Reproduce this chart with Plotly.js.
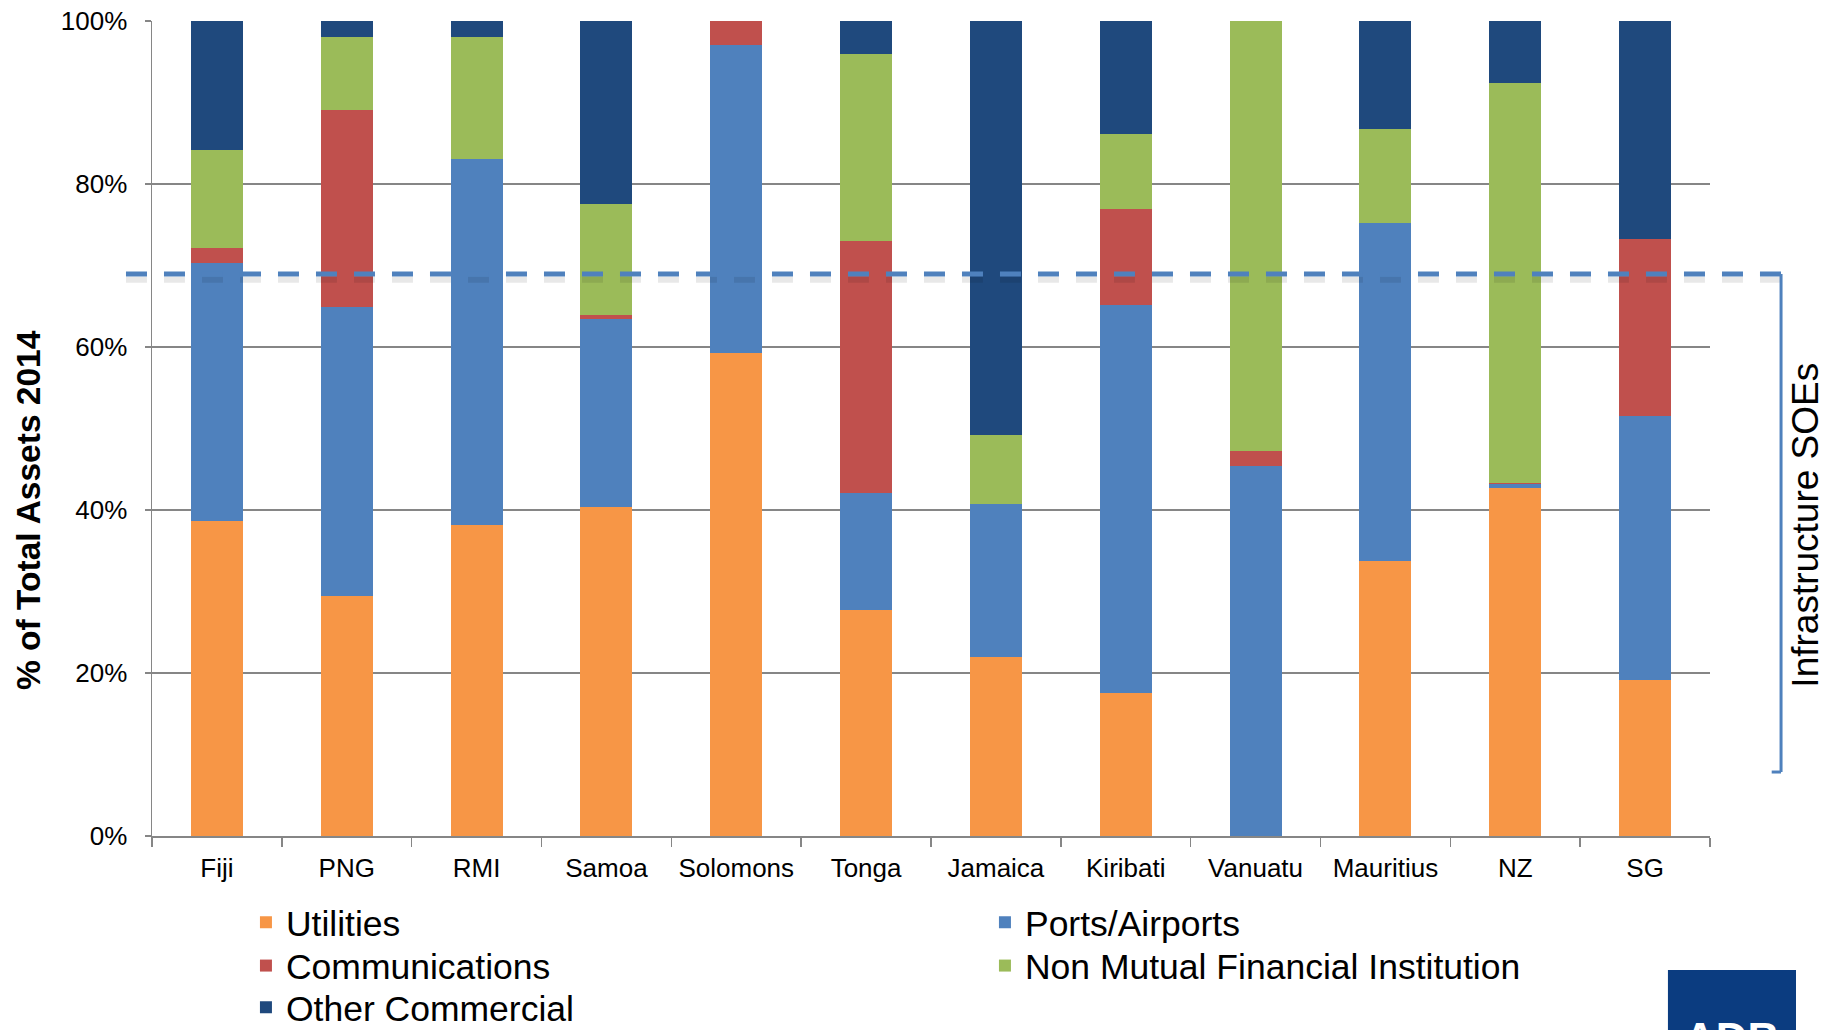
<!DOCTYPE html>
<html><head><meta charset="utf-8">
<script src="https://cdn.plot.ly/plotly-3.0.1.min.js"></script>
<style>html,body{margin:0;padding:0;background:#fff}#chart{width:1829px;height:1030px}</style>
</head><body><div id="chart"></div>
<script>
const countries = ['Fiji','PNG','RMI','Samoa','Solomons','Tonga','Jamaica','Kiribati','Vanuatu','Mauritius','NZ','SG'];
const utilities          = [38.7, 29.4, 38.1, 40.4, 59.3, 27.7, 22.0, 17.6, 0,    33.8, 42.7,  19.2];
const portsAirports      = [31.6, 35.55,45.0, 23.0, 37.7, 14.4, 18.7, 47.6, 45.4, 41.4, 0.5,   32.3];
const communications     = [1.9,  24.15,0,    0.5,  3.0,  30.9, 0,    11.7, 1.9,  0,    0.1,   21.7];
const nonMutualFinancial = [12.0, 8.9,  14.9, 13.6, 0,    22.9, 8.5,  9.2,  52.7, 11.6, 49.05, 0];
const otherCommercial    = [15.8, 2.0,  2.0,  22.5, 0,    4.1,  50.8, 13.9, 0,    13.2, 7.65,  26.8];
const seriesNames = ['Utilities','Ports/Airports','Communications','Non Mutual Financial Institution','Other Commercial'];
const seriesColors = ['#f79646','#4f81bd','#c0504d','#9bbb59','#1f497d'];
const seriesLegends = ['legend','legend','legend2','legend2','legend3'];
const yTickVals = [0,20,40,60,80,100];
const yTickText = ['0%','20%','40%','60%','80%','100%'];
const infraThreshold = 68.96;
const bracketBottom = 7.85;

const values = [utilities, portsAirports, communications, nonMutualFinancial, otherCommercial];
const traces = values.map((v,i)=>({
  type:'bar', x:countries, y:v, name:seriesNames[i],
  marker:{color:seriesColors[i], line:{width:0}},
  legend:seriesLegends[i], hoverinfo:'x+y+name'
}));

const FONT = 'Liberation Sans, Arial, Helvetica, sans-serif';
const legendBase = {orientation:'h', xanchor:'left', yanchor:'middle', x:0.0603,
  font:{size:35.5, family:FONT, color:'#000'}, entrywidth:694, entrywidthmode:'pixels',
  bgcolor:'rgba(0,0,0,0)', borderwidth:0, traceorder:'normal'};

const xL = -0.0167, xR = 1.0456;
const layout = {
  width:1829, height:1030,
  margin:{l:152, r:119, t:21, b:194, autoexpand:false},
  barmode:'stack', bargap:0.6,
  paper_bgcolor:'#ffffff', plot_bgcolor:'#ffffff',
  font:{family:FONT, color:'#000', size:26},
  showlegend:true,
  legend:Object.assign({}, legendBase, {y:-0.1065}),
  legend2:Object.assign({}, legendBase, {y:-0.1595}),
  legend3:Object.assign({}, legendBase, {y:-0.2105}),
  xaxis:{type:'category', tickson:'boundaries', ticks:'outside', ticklen:9, tickcolor:'#868686', tickwidth:1.5,
    showline:true, linecolor:'#868686', linewidth:1.5, showgrid:false, tickfont:{size:26, family:FONT, color:'#000'},
    ticklabelstandoff:8, fixedrange:true},
  yaxis:{range:[0,100], tickmode:'array', tickvals:yTickVals, ticktext:yTickText, ticks:'outside', ticklen:6, tickcolor:'#868686', tickwidth:1.5,
    showline:true, linecolor:'#868686', linewidth:1.5, showgrid:true, gridcolor:'#868686', gridwidth:1.5,
    zeroline:false, tickfont:{size:26, family:FONT, color:'#000'}, ticklabelstandoff:12, fixedrange:true},
  shapes:[
    {type:'line', xref:'paper', yref:'y', x0:xL, x1:xR, y0:infraThreshold-0.7, y1:infraThreshold-0.7,
      line:{color:'rgba(0,0,0,0.09)', width:6, dash:'21px,17px'}, layer:'above'},
    {type:'line', xref:'paper', yref:'y', x0:xL, x1:xR, y0:infraThreshold, y1:infraThreshold,
      line:{color:'#4f81bd', width:5, dash:'21px,17px'}, layer:'above'},
    {type:'line', xref:'paper', yref:'y', x0:xR, x1:xR, y0:infraThreshold, y1:bracketBottom,
      line:{color:'#4f81bd', width:3}, layer:'above'},
    {type:'line', xref:'paper', yref:'y', x0:xR-0.006, x1:xR, y0:bracketBottom, y1:bracketBottom,
      line:{color:'#4f81bd', width:3}, layer:'above'},
    {type:'rect', xref:'paper', yref:'paper', x0:0.973, x1:1.0552, y0:-0.1644, y1:-0.32,
      fillcolor:'#0b3c80', line:{width:0}}
  ],
  annotations:[
    {text:'<b>% of Total Assets 2014</b>', xref:'paper', yref:'y', x:-0.0796, y:40, textangle:-90,
      showarrow:false, font:{size:33.5, family:FONT, color:'#000'}, xanchor:'center', yanchor:'middle'},
    {text:'Infrastructure SOEs', xref:'paper', yref:'y', x:1.0616, y:38.2, textangle:-90,
      showarrow:false, font:{size:37, family:FONT, color:'#000'}, xanchor:'center', yanchor:'middle'},
    {text:'<b>ADB</b>', xref:'paper', yref:'paper', x:1.0141, y:-0.216, yanchor:'top', xanchor:'center',
      showarrow:false, font:{size:44, family:FONT, color:'#ffffff'}}
  ]
};
Plotly.newPlot('chart', traces, layout, {displayModeBar:false, staticPlot:true});
</script></body></html>
